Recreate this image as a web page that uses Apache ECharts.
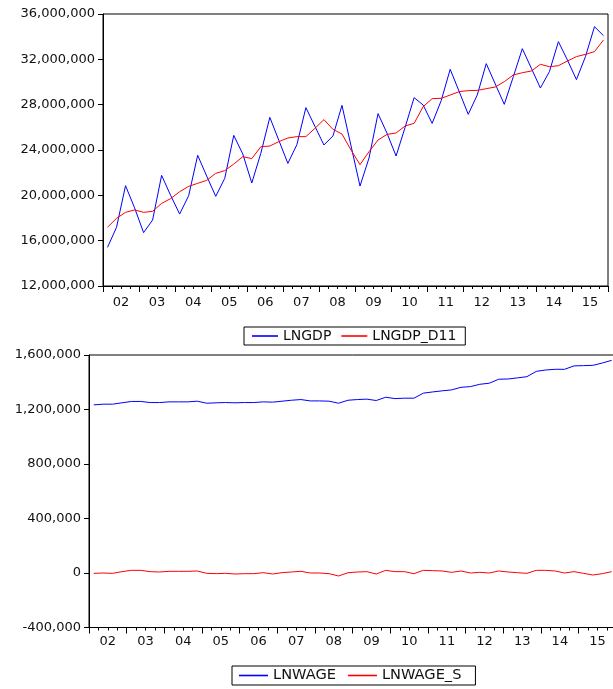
<!DOCTYPE html>
<html>
<head>
<meta charset="utf-8">
<script src="https://cdn.jsdelivr.net/npm/echarts@6/dist/echarts.min.js"></script>
<style>
html,body{margin:0;padding:0;background:#fff;overflow:hidden;}
#wrap{width:613px;height:689px;overflow:hidden;}
#chart{width:620px;height:689px;}
</style>
</head>
<body>
<div id="wrap"><div id="chart"></div></div>
<script>
// Quarterly data, 2002Q1 .. 2015Q4
const yearLabels = ['02','03','04','05','06','07','08','09','10','11','12','13','14','15'];

const lngdp = [
  15410000,17180000,20850000,18900000, 16710000,17820000,21760000,20000000,
  18350000,19970000,23530000,21700000, 19910000,21500000,25290000,23650000,
  21090000,23710000,26880000,24850000, 22820000,24470000,27740000,26090000,
  24440000,25240000,27940000,24380000, 20820000,23290000,27210000,25470000,
  23470000,26000000,28620000,27970000, 26350000,28350000,31120000,29150000,
  27150000,28850000,31620000,29820000, 28030000,30470000,32940000,31210000,
  29470000,30910000,33560000,31940000, 30210000,32240000,34880000,34090000
];
const lngdpD11 = [
  17180000,17970000,18500000,18710000, 18500000,18590000,19290000,19710000,
  20320000,20790000,21060000,21320000, 21940000,22180000,22760000,23410000,
  23240000,24290000,24350000,24740000, 25060000,25180000,25180000,25910000,
  26680000,25820000,25410000,24000000, 22710000,23850000,24880000,25380000,
  25500000,26120000,26350000,27820000, 28530000,28560000,28850000,29150000,
  29240000,29260000,29410000,29560000, 30030000,30620000,30820000,30970000,
  31560000,31350000,31440000,31850000, 32240000,32440000,32680000,33710000
];
const lnwage = [
  1234000,1239000,1239000,1249000, 1259000,1259000,1251000,1251000,
  1256000,1256000,1256000,1261000, 1246000,1249000,1251000,1249000,
  1251000,1251000,1256000,1254000, 1261000,1268000,1273000,1263000,
  1263000,1261000,1246000,1268000, 1273000,1276000,1266000,1290000,
  1280000,1283000,1283000,1320000, 1329000,1337000,1344000,1363000,
  1368000,1385000,1393000,1422000, 1424000,1432000,1441000,1480000,
  1490000,1495000,1495000,1520000, 1522000,1524000,1541000,1561000
];
const lnwageS = [
  -2500,0,-2500,9800, 19600,19600,9800,7400,
  12300,12300,12300,14700, -2500,-4900,-2500,-7400,
  -4900,-4900,2500,-7400, 2500,7400,12300,0,
  0,-4900,-22000,2000, 7400,9800,-7400,19600,
  9800,9800,-4900,19600, 17200,14700,4900,14700,
  0,4900,0,14700, 7400,2500,-2500,19600,
  19600,14700,0,9800, -2500,-14700,-4900,9800
];

const FONT = 'DejaVu Sans';
const nQ = lngdp.length;
function toPts(arr){ return arr.map((v,i)=>[i+0.5, v]); }
function fmt(v){ return v.toLocaleString('en-US'); }

function tickAxis(grid){
  return {
    type:'value', gridIndex:grid, min:0, max:nQ, interval:4, position:'bottom',
    axisLine:{show:true, onZero:false, lineStyle:{color:'#000', width:1}},
    axisTick:{show:true, length:6, lineStyle:{color:'#000'}},
    minorTick:{show:true, splitNumber:4, length:3, lineStyle:{color:'#000'}},
    axisLabel:{show:false}, splitLine:{show:false}, minorSplitLine:{show:false}
  };
}
function labelAxis(grid, margin){
  return {
    type:'category', gridIndex:grid, data:yearLabels, position:'bottom', boundaryGap:true,
    axisLine:{show:false, onZero:false}, axisTick:{show:false}, splitLine:{show:false},
    axisLabel:{show:true, interval:0, margin:margin, color:'#111', fontFamily:FONT, fontSize:13}
  };
}
function yAx(grid, min, max, interval){
  return {
    type:'value', gridIndex:grid, min:min, max:max, interval:interval,
    axisLine:{show:true, onZero:false, lineStyle:{color:'#000', width:1}},
    axisTick:{show:true, length:5, lineStyle:{color:'#000'}},
    axisLabel:{margin:8, color:'#111', fontFamily:FONT, fontSize:13, formatter:fmt},
    splitLine:{show:false}
  };
}
function legendCfg(names, left, top, itemWidth, gap, padL, padR, fs){
  return {
    data:names, left:left, top:top, orient:'horizontal', icon:'rect',
    borderColor:'#000', borderWidth:1, padding:[2,padR,2,padL],
    itemWidth:itemWidth, itemHeight:1.6, itemGap:gap,
    textStyle:{fontFamily:FONT, fontSize:fs, color:'#111'}
  };
}

const chart = echarts.init(document.getElementById('chart'), null, {renderer:'canvas'});
chart.setOption({
  animation:false,
  backgroundColor:'#fff',
  grid:[
    {left:103, width:505, top:14, height:272, show:true, borderColor:'#000', borderWidth:1, backgroundColor:'#fff'},
    {left:89, width:527.4, top:355, height:272.5, show:true, borderColor:'#000', borderWidth:1, backgroundColor:'#fff'}
  ],
  xAxis:[ tickAxis(0), labelAxis(0,10), tickAxis(1), labelAxis(1,8) ],
  yAxis:[ yAx(0, 12000000, 36000000, 4000000), yAx(1, -400000, 1600000, 400000) ],
  legend:[
    legendCfg(['LNGDP','LNGDP_D11'], 244, 327, 26, 10, 8, 9, 14),
    legendCfg(['LNWAGE','LNWAGE_S'], 232, 666, 29, 12, 7, 14, 14.6)
  ],
  series:[
    {name:'LNGDP', type:'line', xAxisIndex:0, yAxisIndex:0, data:toPts(lngdp), symbol:'none',
     lineStyle:{color:'#0000ff', width:1}, itemStyle:{color:'#0000ff'}},
    {name:'LNGDP_D11', type:'line', xAxisIndex:0, yAxisIndex:0, data:toPts(lngdpD11), symbol:'none',
     lineStyle:{color:'#ff0000', width:1}, itemStyle:{color:'#ff0000'}},
    {name:'LNWAGE', type:'line', xAxisIndex:2, yAxisIndex:1, data:toPts(lnwage), symbol:'none',
     lineStyle:{color:'#0000ff', width:1}, itemStyle:{color:'#0000ff'}},
    {name:'LNWAGE_S', type:'line', xAxisIndex:2, yAxisIndex:1, data:toPts(lnwageS), symbol:'none',
     lineStyle:{color:'#ff0000', width:1}, itemStyle:{color:'#ff0000'}}
  ]
});
</script>
</body>
</html>
